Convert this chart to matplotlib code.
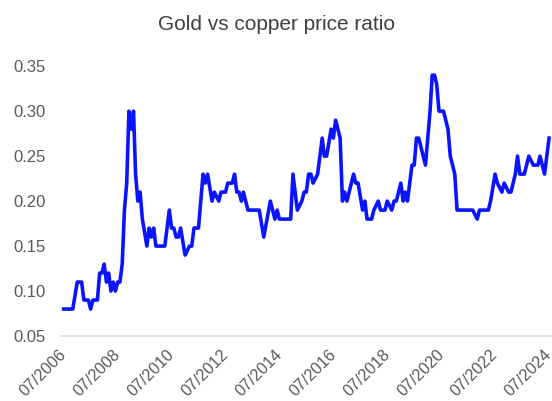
import matplotlib
matplotlib.use('Agg')
import matplotlib.pyplot as plt
import matplotlib.transforms as mtransforms
import pandas as pd

# Fechas (mes) y ratio oro / cobre
fechas = ['2006-07', '2006-11', '2007-01', '2007-03', '2007-04', '2007-06', '2007-07', '2007-08',
          '2007-10', '2007-11', '2007-12', '2008-01', '2008-02', '2008-03', '2008-04', '2008-05',
          '2008-06', '2008-07', '2008-08', '2008-09', '2008-10', '2008-11', '2008-12', '2009-01',
          '2009-02', '2009-03', '2009-04', '2009-05', '2009-06', '2009-08', '2009-09', '2009-10',
          '2009-11', '2009-12', '2010-04', '2010-06', '2010-07', '2010-08', '2010-09', '2010-10',
          '2010-11', '2011-01', '2011-03', '2011-04', '2011-05', '2011-07', '2011-09', '2011-10',
          '2011-11', '2012-01', '2012-02', '2012-04', '2012-05', '2012-07', '2012-08', '2012-10',
          '2012-11', '2012-12', '2013-01', '2013-02', '2013-03', '2013-05', '2013-10', '2013-12',
          '2014-03', '2014-05', '2014-06', '2014-07', '2014-12', '2015-01', '2015-03', '2015-05',
          '2015-06', '2015-07', '2015-08', '2015-09', '2015-10', '2015-12', '2016-02', '2016-03',
          '2016-04', '2016-06', '2016-07', '2016-08', '2016-10', '2016-11', '2016-12', '2017-01',
          '2017-04', '2017-05', '2017-06', '2017-08', '2017-09', '2017-10', '2017-12', '2018-01',
          '2018-03', '2018-04', '2018-06', '2018-07', '2018-09', '2018-10', '2018-11', '2019-01',
          '2019-02', '2019-03', '2019-04', '2019-06', '2019-07', '2019-08', '2019-09', '2019-12',
          '2020-02', '2020-03', '2020-04', '2020-05', '2020-06', '2020-08', '2020-10', '2020-11',
          '2021-01', '2021-02', '2021-09', '2021-11', '2021-12', '2022-04', '2022-05', '2022-07',
          '2022-08', '2022-10', '2022-11', '2023-01', '2023-02', '2023-04', '2023-05', '2023-06',
          '2023-08', '2023-10', '2023-12', '2024-02', '2024-03', '2024-05', '2024-07']

ratio = [0.08, 0.08, 0.11, 0.11, 0.09, 0.09, 0.08, 0.09,
         0.09, 0.12, 0.12, 0.13, 0.11, 0.12, 0.10, 0.11,
         0.10, 0.11, 0.11, 0.13, 0.19, 0.22, 0.30, 0.28,
         0.30, 0.23, 0.20, 0.21, 0.18, 0.15, 0.17, 0.16,
         0.17, 0.15, 0.15, 0.19, 0.17, 0.17, 0.16, 0.16,
         0.17, 0.14, 0.15, 0.15, 0.17, 0.17, 0.23, 0.22,
         0.23, 0.20, 0.21, 0.20, 0.21, 0.21, 0.22, 0.22,
         0.23, 0.21, 0.21, 0.20, 0.21, 0.19, 0.19, 0.16,
         0.20, 0.18, 0.19, 0.18, 0.18, 0.23, 0.19, 0.20,
         0.21, 0.21, 0.23, 0.23, 0.22, 0.23, 0.27, 0.25,
         0.25, 0.28, 0.27, 0.29, 0.27, 0.20, 0.21, 0.20,
         0.23, 0.22, 0.22, 0.19, 0.20, 0.18, 0.18, 0.19,
         0.20, 0.19, 0.19, 0.20, 0.19, 0.20, 0.20, 0.22,
         0.20, 0.21, 0.20, 0.24, 0.24, 0.27, 0.27, 0.24,
         0.30, 0.34, 0.34, 0.33, 0.30, 0.30, 0.28, 0.25,
         0.23, 0.19, 0.19, 0.18, 0.19, 0.19, 0.20, 0.23,
         0.22, 0.21, 0.22, 0.21, 0.21, 0.23, 0.25, 0.23,
         0.23, 0.25, 0.24, 0.24, 0.25, 0.23, 0.27]

etiquetas_x = ['07/2006', '07/2008', '07/2010', '07/2012', '07/2014',
               '07/2016', '07/2018', '07/2020', '07/2022', '07/2024']
valores_y = [0.05, 0.10, 0.15, 0.20, 0.25, 0.30, 0.35]

plt.rcParams['font.family'] = ['Liberation Sans', 'DejaVu Sans']
gris = '#595959'

fechas_dt = pd.to_datetime(fechas)
ticks_x = pd.to_datetime(etiquetas_x, format='%m/%Y')

fig = plt.figure(figsize=(5.52, 4.01), dpi=100)
ax = fig.add_axes([0.11, 0.162, 0.89, 0.673])
ax.plot(fechas_dt, ratio, color='#0A14FF', linewidth=2.6, solid_joinstyle='round')

ax.set_ylim(0.05, 0.35)
ax.set_yticks(valores_y)
ax.set_yticklabels(['%.2f' % v for v in valores_y])
ax.set_xlim(pd.Timestamp('2006-05-22'), pd.Timestamp('2024-08-10'))
ax.set_xticks(ticks_x)
ax.set_xticklabels(etiquetas_x, rotation=45, ha='right', va='top', rotation_mode='anchor')

for lado in ['top', 'right', 'left']:
    ax.spines[lado].set_visible(False)
ax.spines['bottom'].set_color('#D9D9D9')
ax.spines['bottom'].set_linewidth(1.2)
ax.tick_params(axis='both', length=0, labelsize=12, colors=gris)
ax.tick_params(axis='y', pad=11)
ax.tick_params(axis='x', labelsize=11.7, pad=8)

# correr un poco las etiquetas del eje X hacia la izquierda (despues de tick_params)
desplazamiento = mtransforms.ScaledTranslation(-0.05, 0, fig.dpi_scale_trans)
for etiqueta in ax.get_xticklabels():
    etiqueta.set_transform(etiqueta.get_transform() + desplazamiento)

fig.text(0.5, 0.925, 'Gold vs copper price ratio', fontsize=15, color='#404040',
         ha='center', va='baseline')

fig.savefig('out.png', dpi=100)
